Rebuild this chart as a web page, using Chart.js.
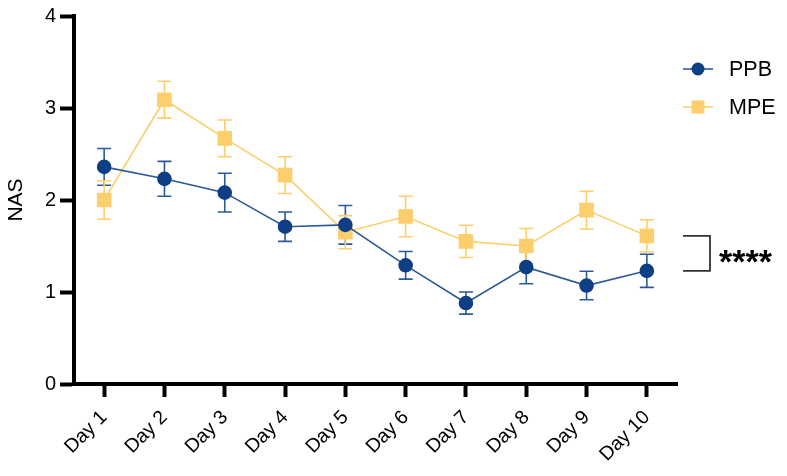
<!DOCTYPE html>
<html>
<head>
<meta charset="utf-8">
<script src="https://cdn.jsdelivr.net/npm/chart.js@4.4.0/dist/chart.umd.min.js"></script>
<style>
  html, body { margin: 0; padding: 0; background: #fff; }
  #wrap { width: 787px; height: 476px; position: relative; }
</style>
</head>
<body>
<div id="wrap"><canvas id="nasChart"></canvas></div>
<script>
// --- Data ---
const days = ['Day 1', 'Day 2', 'Day 3', 'Day 4', 'Day 5', 'Day 6', 'Day 7', 'Day 8', 'Day 9', 'Day 10'];
const ppbMean = [2.36, 2.23, 2.08, 1.71, 1.73, 1.29, 0.88, 1.27, 1.07, 1.23];
const ppbSem  = [0.20, 0.19, 0.21, 0.16, 0.21, 0.15, 0.12, 0.18, 0.155, 0.18];
const mpeMean = [2.00, 3.09, 2.67, 2.27, 1.65, 1.82, 1.55, 1.50, 1.89, 1.61];
const mpeSem  = [0.21, 0.20, 0.20, 0.20, 0.18, 0.22, 0.175, 0.19, 0.205, 0.175];
const yTicks = [0, 1, 2, 3, 4];
const sigLabel = '****';

const PPB_COLOR = '#0E3E84';
const PPB_BAR = '#2C5A99';
const MPE_COLOR = '#FCCF6C';
const FONT = '"Liberation Sans", Arial, Helvetica, sans-serif';

// error bars drawn under the markers
const errorBars = {
    id: 'errorBars',
    beforeDatasetsDraw(chart) {
        const { ctx, scales: { x, y } } = chart;
        chart.data.datasets.forEach(ds => {
            ctx.save();
            ctx.strokeStyle = ds.errColor;
            ctx.lineWidth = 1.6;
            ds.data.forEach((v, j) => {
                const px = x.getPixelForValue(j);
                const top = y.getPixelForValue(v + ds.sem[j]);
                const bot = y.getPixelForValue(v - ds.sem[j]);
                ctx.beginPath();
                ctx.moveTo(px, top); ctx.lineTo(px, bot);
                ctx.moveTo(px - 7, top); ctx.lineTo(px + 7, top);
                ctx.moveTo(px - 7, bot); ctx.lineTo(px + 7, bot);
                ctx.stroke();
            });
            ctx.restore();
        });
    }
};

// legend + significance bracket on the right side
const sideAnnotations = {
    id: 'sideAnnotations',
    afterDraw(chart) {
        const { ctx, scales: { x, y } } = chart;
        ctx.save();
        const items = [
            { label: 'PPB', color: PPB_COLOR, line: PPB_BAR, shape: 'circle', cy: 69 },
            { label: 'MPE', color: MPE_COLOR, line: MPE_COLOR, shape: 'rect', cy: 107 }
        ];
        items.forEach(it => {
            ctx.strokeStyle = it.line;
            ctx.lineWidth = 1.6;
            ctx.beginPath();
            ctx.moveTo(683, it.cy); ctx.lineTo(713, it.cy);
            ctx.stroke();
            ctx.fillStyle = it.color;
            ctx.beginPath();
            if (it.shape === 'circle') ctx.arc(698, it.cy, 6.5, 0, Math.PI * 2);
            else ctx.rect(691.5, it.cy - 6.5, 13, 13);
            ctx.fill();
            ctx.fillStyle = '#000';
            ctx.font = '21.5px ' + FONT;
            ctx.textBaseline = 'middle';
            ctx.textAlign = 'left';
            ctx.fillText(it.label, 729, it.cy + 1);
        });
        // bracket between the last points of the two series
        const last = days.length - 1;
        const yTop = y.getPixelForValue(mpeMean[last]);
        const yBot = y.getPixelForValue(ppbMean[last]);
        const xEnd = 710;
        ctx.strokeStyle = '#333';
        ctx.lineWidth = 1.8;
        ctx.beginPath();
        ctx.moveTo(683, yTop);
        ctx.lineTo(xEnd, yTop);
        ctx.lineTo(xEnd, yBot);
        ctx.lineTo(683, yBot);
        ctx.stroke();
        ctx.fillStyle = '#000';
        ctx.font = 'bold 34px ' + FONT;
        ctx.textBaseline = 'alphabetic';
        ctx.fillText(sigLabel, 719, (yTop + yBot) / 2 + 20);
        ctx.restore();
    }
};

new Chart(document.getElementById('nasChart'), {
    type: 'line',
    data: {
        labels: days,
        datasets: [
            {
                label: 'PPB',
                data: ppbMean,
                sem: ppbSem,
                errColor: PPB_BAR,
                borderColor: PPB_BAR,
                backgroundColor: PPB_COLOR,
                pointBackgroundColor: PPB_COLOR,
                pointBorderColor: PPB_COLOR,
                pointStyle: 'circle',
                pointRadius: 6.5,
                pointHoverRadius: 6.5,
                borderWidth: 1.6,
                tension: 0
            },
            {
                label: 'MPE',
                data: mpeMean,
                sem: mpeSem,
                errColor: MPE_COLOR,
                borderColor: MPE_COLOR,
                backgroundColor: MPE_COLOR,
                pointBackgroundColor: MPE_COLOR,
                pointBorderColor: MPE_COLOR,
                pointStyle: 'rect',
                pointRadius: 9.2,
                pointHoverRadius: 9.2,
                borderWidth: 1.6,
                tension: 0
            }
        ]
    },
    options: {
        responsive: true,
        maintainAspectRatio: false,
        animation: false,
        events: [],
        layout: { padding: { top: 12, right: 110, left: 0, bottom: 0 } },
        plugins: { legend: { display: false }, tooltip: { enabled: false } },
        scales: {
            x: {
                offset: true,
                grid: { display: true, drawOnChartArea: false, drawTicks: true, tickLength: 13, tickWidth: 4, tickColor: '#000', offset: false },
                border: { display: true, color: '#000', width: 4 },
                ticks: { color: '#000', font: { family: FONT, size: 19.5 }, minRotation: 45, maxRotation: 45, padding: 9 },
                afterFit: s => { s.height = 92; }
            },
            y: {
                min: 0,
                max: 4,
                afterBuildTicks: s => { s.ticks = yTicks.map(v => ({ value: v })); },
                grid: { display: true, drawOnChartArea: false, drawTicks: true, tickLength: 14, tickWidth: 4, tickColor: '#000' },
                border: { display: true, color: '#000', width: 4 },
                ticks: { color: '#000', font: { family: FONT, size: 20 }, padding: 4 },
                title: { display: true, text: 'NAS', color: '#000', font: { family: FONT, size: 21 }, padding: { top: 4, bottom: 0 } },
                afterFit: s => { s.width = 74; }
            }
        }
    },
    plugins: [errorBars, sideAnnotations]
});
</script>
</body>
</html>
